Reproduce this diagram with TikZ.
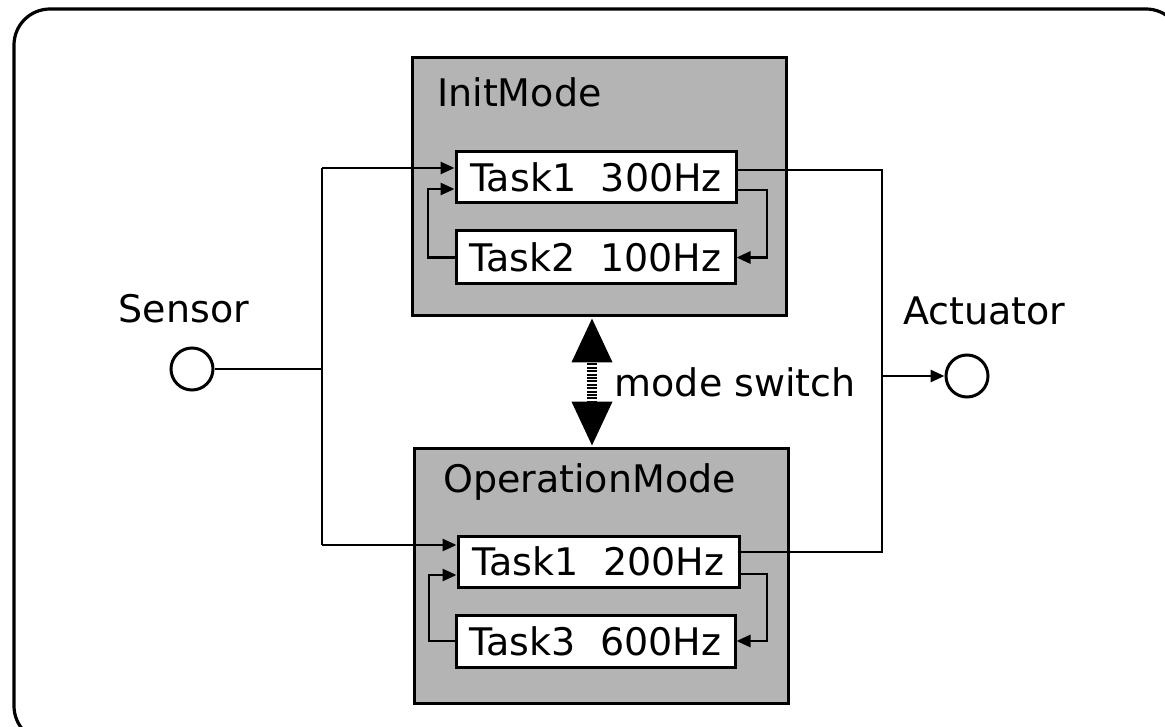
\documentclass[tikz,border=0pt]{standalone}
\usepackage{fontspec}
\setmainfont{DejaVu Sans}
\usetikzlibrary{arrows.meta}
\definecolor{modegray}{RGB}{180,180,180}
\begin{document}
\begin{tikzpicture}[x=1pt,y=-1pt,
  every node/.style={font=\fontsize{38pt}{45pt}\selectfont},
  modebox/.style={draw,line width=3pt,fill=modegray},
  taskbox/.style={draw,line width=3pt,fill=white,inner sep=0pt,minimum width=279pt,minimum height=52pt},
  port/.style={draw,line width=3pt,circle,minimum size=42pt,inner sep=0pt},
  wire/.style={line width=2.8pt},
  arr/.style={line width=2.8pt,-{Triangle[length=14pt,width=12pt]}},
  lbl/.style={inner sep=0pt,anchor=base west},
  modesw/.style={line width=10pt,dash pattern=on 2pt off 1.4pt,{Triangle[length=45pt,width=38pt]}-{Triangle[length=45pt,width=38pt]}}
]
\useasboundingbox (0,0) rectangle (1165,727);
\clip (0,0) rectangle (1165,727);
\draw[line width=3.2pt,rounded corners=36pt] (14,9) rectangle (1182,742);

% mode boxes
\node[modebox,minimum width=374pt,minimum height=258pt,inner sep=0pt] (im) at (599,187) {};
\node[modebox,minimum width=374pt,minimum height=255pt,inner sep=0pt] (om) at (601,575.5) {};
\node[lbl] (imt) at (437,107) {InitMode};
\node[lbl] (omt) at (443,492) {OperationMode};

% tasks
\node[taskbox,minimum width=280pt,minimum height=51pt] (t1) at (596,177.5) {Task1\hspace{0.65em}300Hz};
\node[taskbox,minimum height=53pt] (t2) at (595.5,257.5) {Task2\hspace{0.65em}100Hz};
\node[taskbox,minimum width=281pt,minimum height=51pt] (u1) at (598.5,561.5) {Task1\hspace{0.65em}200Hz};
\node[taskbox] (u3) at (595.5,641) {Task3\hspace{0.65em}600Hz};

% ports
\node[port] (sen) at (192,369) {};
\node[port] (act) at (967,376) {};
\node[lbl] (sent) at (118.5,323) {Sensor};
\node[lbl] (actt) at (903,325) {Actuator};

% junctions
\coordinate (sj) at (322,369);
\coordinate (sa) at (322,168);
\coordinate (sb) at (322,545);
\coordinate (oa) at (882,170);
\coordinate (ob) at (882,552);
\coordinate (oc) at (882,376);
\coordinate (la) at (428,189);
\coordinate (ra) at (767,190);
\coordinate (lb) at (429,575);
\coordinate (rb) at (767,574);
\coordinate (ms) at (592,0);

% sensor wiring
\draw[wire] (sen.east) -- (sj);
\draw[wire] (sa) -- (sb);
\draw[arr] (sa) -- (sa -| t1.west);
\draw[arr] (sb) -- (sb -| u1.west);

% internal loops
\draw[arr] (t2.west) -| (la) -- (la -| t1.west);
\draw[arr] (ra -| t1.east) -- (ra) |- (t2.east);
\draw[arr] (u3.west) -| (lb) -- (lb -| u1.west);
\draw[arr] (rb -| u1.east) -- (rb) |- (u3.east);

% actuator wiring
\draw[wire] (oa -| t1.east) -- (oa) -- (ob) -- (ob -| u1.east);
\draw[arr] (oc) -- (act.west);

% mode switch
\draw[modesw] (ms |- im.south) -- (ms |- om.north);
\node[lbl] (mst) at (614.5,396) {mode switch};
\end{tikzpicture}
\end{document}
